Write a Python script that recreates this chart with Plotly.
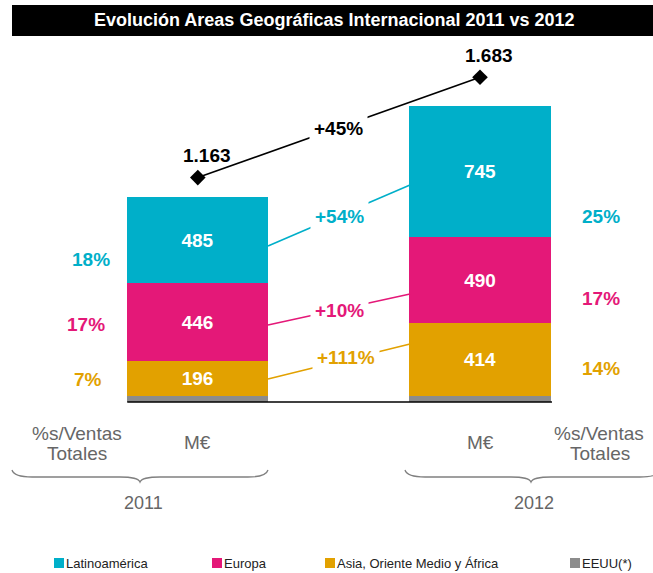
import plotly.graph_objects as go

# ---------------- data ----------------
years = ["2011", "2012"]
series = ["Latinoamérica", "Europa", "Asia, Oriente Medio y África", "EEUU(*)"]
latam = [485, 745]
europa = [446, 490]
asia = [196, 414]
eeuu = [36, 34]
share_2011 = ["18%", "17%", "7%"]   # Latinoamérica, Europa, Asia
share_2012 = ["25%", "17%", "14%"]
title_text = "Evolución Areas Geográficas Internacional 2011 vs 2012"

colors = {"Latinoamérica": "#00AFC9", "Europa": "#E41878",
          "Asia, Oriente Medio y África": "#E2A100", "EEUU(*)": "#8C8C8C"}

values = {"Latinoamérica": latam, "Europa": europa,
          "Asia, Oriente Medio y África": asia, "EEUU(*)": eeuu}
totals = [sum(v[i] for v in values.values()) for i in range(2)]

# ---------------- layout helpers ----------------
W, H = 653, 573
FONT = "Liberation Sans, Arial, sans-serif"
X = [0, 1]
BAR_W = 0.5
PX_PER_X = 282.2
X0_PX = 197.8
BASE_PX = 402.0
PX_PER_Y = 0.1759
xr = [-X0_PX / PX_PER_X, (W - X0_PX) / PX_PER_X]
yr = [-(H - BASE_PX) / PX_PER_Y, BASE_PX / PX_PER_Y]


def yv(py):  # pixel y -> data y
    return (BASE_PX - py) / PX_PER_Y


def xv(px):  # pixel x -> data x
    return (px - X0_PX) / PX_PER_X


def pp(px, py):  # pixel -> paper
    return px / W, 1 - py / H


def ann(text, px, py, color, size, xanchor="center", **kw):
    x_, y_ = pp(px, py)
    return dict(text=text, x=x_, y=y_, xref="paper", yref="paper", showarrow=False,
                xanchor=xanchor, yanchor="middle",
                font=dict(color=color, size=size, family=FONT), **kw)


fig = go.Figure()

# stacked bars, bottom to top
for name in ["EEUU(*)", "Asia, Oriente Medio y África", "Europa", "Latinoamérica"]:
    vals = values[name]
    fig.add_trace(go.Bar(
        x=X, y=vals, width=BAR_W, name=name,
        marker=dict(color=colors[name], line=dict(width=0)),
        text=[str(v) for v in vals] if name != "EEUU(*)" else None,
        textposition="inside", insidetextanchor="middle",
        textfont=dict(color="white", size=19, family=FONT, weight="bold"),
        hoverinfo="skip", showlegend=False,
    ))

# total line with diamonds
tot_marker_y = [t * 1.097 for t in totals]
fig.add_trace(go.Scatter(
    x=X, y=tot_marker_y, mode="lines+markers",
    line=dict(color="black", width=1.6),
    marker=dict(symbol="diamond", size=12, color="black"),
    hoverinfo="skip", showlegend=False,
))

shapes = []
annotations = []

# baseline
shapes.append(dict(type="line", xref="x", yref="y", x0=-0.25, x1=1.255, y0=0, y1=0,
                   line=dict(color="black", width=1.6)))

# title banner
bx0, by0 = pp(12, 5)
bx1, by1 = pp(W, 36)
shapes.append(dict(type="rect", xref="paper", yref="paper", x0=bx0, x1=1.0, y0=by1, y1=by0,
                   fillcolor="black", line=dict(width=0), layer="below"))
annotations.append(ann(f"<b>{title_text}</b>", 334, 20.5, "white", 18))

# totals labels
for i, t in enumerate(totals):
    annotations.append(dict(text=f"<b>{t:,}</b>".replace(",", "."), x=X[i], y=tot_marker_y[i],
                            xref="x", yref="y", showarrow=False, xshift=9, yshift=22,
                            xanchor="center", yanchor="middle",
                            font=dict(color="black", size=19, family=FONT)))

# growth total
g_tot = round((totals[1] / totals[0] - 1) * 100)
annotations.append(dict(text=f"<b>+{g_tot}%</b>", x=xv(338), y=yv(128), xref="x", yref="y",
                        showarrow=False, bgcolor="white", borderpad=4,
                        xanchor="center", yanchor="middle",
                        font=dict(color="black", size=19, family=FONT)))

# connectors between segments + growth labels
conn = {"Latinoamérica": ((268, 246), (410, 185), 0),
        "Europa": ((268, 325), (410, 294), 0),
        "Asia, Oriente Medio y África": ((268, 379), (410, 344), 7)}
for name, ((ax, ay), (bxp, byp), xs) in conn.items():
    shapes.append(dict(type="line", xref="x", yref="y", x0=xv(ax), y0=yv(ay), x1=xv(bxp), y1=yv(byp),
                       line=dict(color=colors[name], width=1.6)))
    a, b = values[name]
    g = round((b / a - 1) * 100)
    annotations.append(dict(text=f"<b>+{g}%</b>", x=xv((ax + bxp) / 2), y=yv((ay + byp) / 2),
                            xref="x", yref="y", showarrow=False, bgcolor="white", borderpad=4,
                            xshift=xs, yshift=-1 if xs == 0 else 4,
                            xanchor="center", yanchor="middle",
                            font=dict(color=colors[name], size=19, family=FONT)))

# share labels
share_names = ["Latinoamérica", "Europa", "Asia, Oriente Medio y África"]
left_pos = [(90.5, 259), (86, 324), (88, 379)]
right_pos = [(600.5, 217), (600.5, 298), (600.5, 368)]
for name, s, (lx, ly) in zip(share_names, share_2011, left_pos):
    annotations.append(ann(f"<b>{s}</b>", lx, ly, colors[name], 19))
for name, s, (rx, ry) in zip(share_names, share_2012, right_pos):
    annotations.append(ann(f"<b>{s}</b>", rx, ry, colors[name], 19))

# sub-labels under bars
GRAY = "#666666"
for (lx, ly, txt) in [(77, 433, "%s/Ventas"), (77, 453, "Totales"),
                      (599, 433, "%s/Ventas"), (600, 453, "Totales"),
                      (197, 443, "M€"), (480, 443, "M€")]:
    annotations.append(ann(txt, lx, ly, GRAY, 19))


# braces + year labels
def brace(x0, x1, xt, ytop, ymid, ybot):
    r = 10

    def P(x, y):
        a, b = pp(x, y)
        return f"{a:.5f},{b:.5f}"
    return (f"M {P(x0, ytop)} Q {P(x0 + 2, ymid)} {P(x0 + r * 2, ymid)} "
            f"L {P(xt - r * 2, ymid)} Q {P(xt - 2, ymid)} {P(xt, ybot)} "
            f"Q {P(xt + 2, ymid)} {P(xt + r * 2, ymid)} "
            f"L {P(x1 - r * 2, ymid)} Q {P(x1 - 2, ymid)} {P(x1, ytop)}")


for (x0, x1, xt, yl) in [(12, 268, 140, years[0]), (405, 660, 531, years[1])]:
    shapes.append(dict(type="path", xref="paper", yref="paper", path=brace(x0, x1, xt, 470, 477, 482),
                       line=dict(color="#808080", width=1.3)))
    annotations.append(ann(yl, xt + 3, 503, GRAY, 18))

# manual legend
leg_x = [54, 212, 325, 570]
for name, lx in zip(series, leg_x):
    sx0, sy0 = pp(lx, 558)
    sx1, sy1 = pp(lx + 10, 568)
    shapes.append(dict(type="rect", xref="paper", yref="paper", x0=sx0, x1=sx1, y0=sy1, y1=sy0,
                       fillcolor=colors[name], line=dict(width=0)))
    annotations.append(ann(name, lx + 10, 563, "#222222", 13, xanchor="left"))

fig.update_layout(
    width=W, height=H, margin=dict(l=0, r=0, t=0, b=0),
    paper_bgcolor="white", plot_bgcolor="white",
    barmode="stack", bargap=0,
    xaxis=dict(range=xr, visible=False, fixedrange=True),
    yaxis=dict(range=yr, visible=False, fixedrange=True),
    shapes=shapes, annotations=annotations,
    showlegend=False,
    font=dict(family=FONT),
)

fig.write_html("out.html", config={"displayModeBar": False},
               post_script="document.body.style.margin='0px';")
